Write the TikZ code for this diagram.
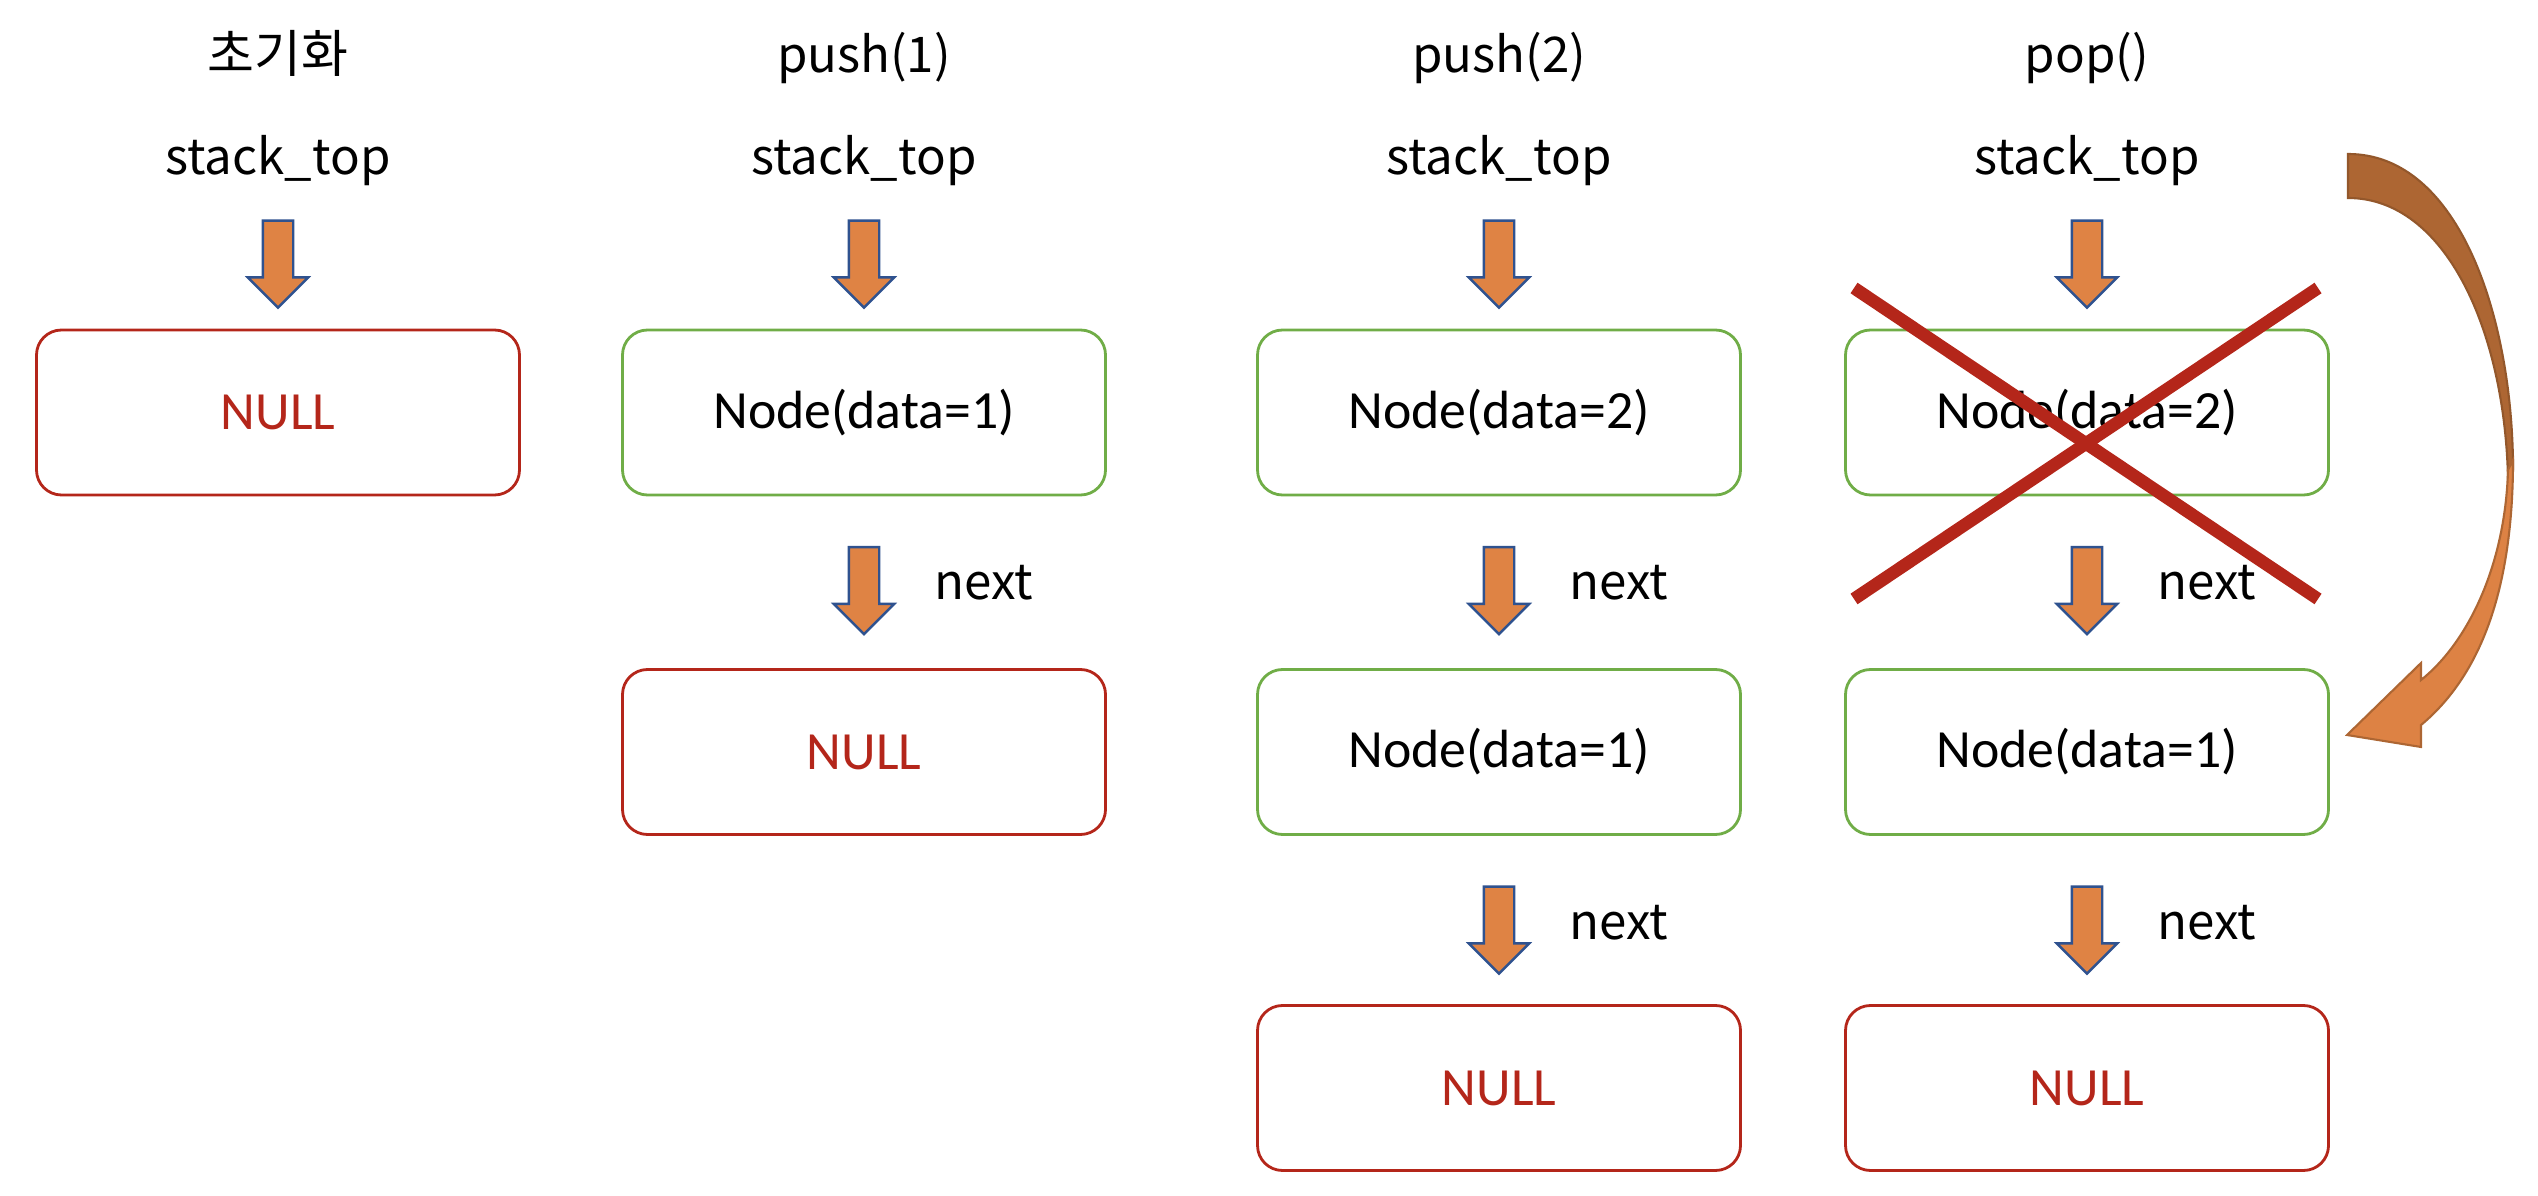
\documentclass[tikz,border=0pt]{standalone}
\usepackage{fontspec}
\setmainfont{Carlito}
\newfontfamily\kofont{Noto Sans CJK KR}
\usetikzlibrary{shapes.arrows,positioning}
\definecolor{nullred}{HTML}{B4261A}
\definecolor{nodegreen}{HTML}{70AD47}
\definecolor{ptrorange}{HTML}{DF8344}
\definecolor{ptrblue}{HTML}{2F528F}
\definecolor{curvedark}{HTML}{AD6633}
\definecolor{curvelight}{HTML}{DD8244}

\begin{document}
\begin{tikzpicture}[
        box/.style={rectangle, rounded corners=0.25cm, draw, line width=0.8pt, minimum width=4.83cm, minimum height=1.65cm, font=\fontsize{15.3}{17}\selectfont},
        nullbox/.style={box, draw=nullred, text=nullred},
        databox/.style={box, draw=nodegreen},
        toptext/.style={font=\kofont\fontsize{14}{16}\selectfont, inner sep=0pt, anchor=base},
        nexttext/.style={toptext, anchor=base west},
        ptr/.style={single arrow, shape border rotate=270, draw=ptrblue, fill=ptrorange, line width=0.7pt, minimum height=0.87cm, minimum width=0.58cm, single arrow head extend=0.15cm, inner sep=0.14cm}
    ]
        \useasboundingbox (0,0) rectangle (25.38,-11.96);

            \node[toptext, font=\kofont\fontsize{14.5}{16}\selectfont] (T1) at (2.78,-0.73) {초기화};
            \node[toptext] (T2) at (8.64,-0.73) {push(1)};
            \node[toptext] (T3) at (14.99,-0.73) {push(2)};
            \node[toptext] (T4) at (20.87,-0.73) {pop()};

            \node[toptext] (S1) at (2.78,-1.75) {stack\_top};
            \node[toptext] (S2) at (8.64,-1.75) {stack\_top};
            \node[toptext] (S3) at (14.99,-1.75) {stack\_top};
            \node[toptext] (S4) at (20.87,-1.75) {stack\_top};

            \node[ptr] (P1) at (2.78,-2.565) {};
            \node[ptr] (P2) at (8.64,-2.565) {};
            \node[ptr] (P3) at (14.99,-2.565) {};
            \node[ptr] (P4) at (20.87,-2.565) {};

            \node[nullbox] (A1) at (2.78,-4.125) {NULL};
            \node[databox] (A2) at (8.64,-4.125) {Node(data=1)};
            \node[databox] (A3) at (14.99,-4.125) {Node(data=2)};
            \node[databox] (A4) at (20.87,-4.125) {Node(data=2)};

            \node[ptr] (Q2) at (8.64,-5.83) {};
            \node[ptr] (Q3) at (14.99,-5.83) {};
            \node[ptr] (Q4) at (20.87,-5.83) {};
            \node[nexttext] (L2) at (9.34,-6.00) {next};
            \node[nexttext] (L3) at (15.69,-6.00) {next};
            \node[nexttext] (L4) at (21.57,-6.00) {next};

            \node[nullbox] (B2) at (8.64,-7.52) {NULL};
            \node[databox] (B3) at (14.99,-7.52) {Node(data=1)};
            \node[databox] (B4) at (20.87,-7.52) {Node(data=1)};

            \node[ptr] (R3) at (14.99,-9.225) {};
            \node[ptr] (R4) at (20.87,-9.225) {};
            \node[nexttext] (M3) at (15.69,-9.39) {next};
            \node[nexttext] (M4) at (21.57,-9.39) {next};

            \node[nullbox] (C3) at (14.99,-10.88) {NULL};
            \node[nullbox] (C4) at (20.87,-10.88) {NULL};

            \coordinate (X1) at (18.54,-2.88);
            \coordinate (X2) at (23.18,-5.99);
            \coordinate (X3) at (23.18,-2.88);
            \coordinate (X4) at (18.54,-5.99);
            \draw[nullred, line width=3.6pt] (X1) -- (X2);
            \draw[nullred, line width=3.6pt] (X3) -- (X4);

            \filldraw[fill=curvedark, draw=curvedark!85!black, line width=0.6pt]
                (23.48,-1.54) .. controls (24.6,-1.54) and (25.13,-3.2) .. (25.13,-4.7)
                -- (25.08,-4.8) .. controls (25.05,-3.3) and (24.45,-1.98) .. (23.48,-1.98) -- cycle;
            \filldraw[fill=curvelight, draw=curvedark, line width=0.6pt]
                (25.13,-4.6) .. controls (25.13,-6.0) and (24.75,-6.8) .. (24.21,-7.25)
                -- (24.21,-7.47) -- (23.47,-7.35) -- (24.21,-6.63) -- (24.21,-6.80)
                .. controls (24.65,-6.45) and (25.05,-5.7) .. (25.08,-4.7) -- cycle;
        \end{tikzpicture}
\end{document}
